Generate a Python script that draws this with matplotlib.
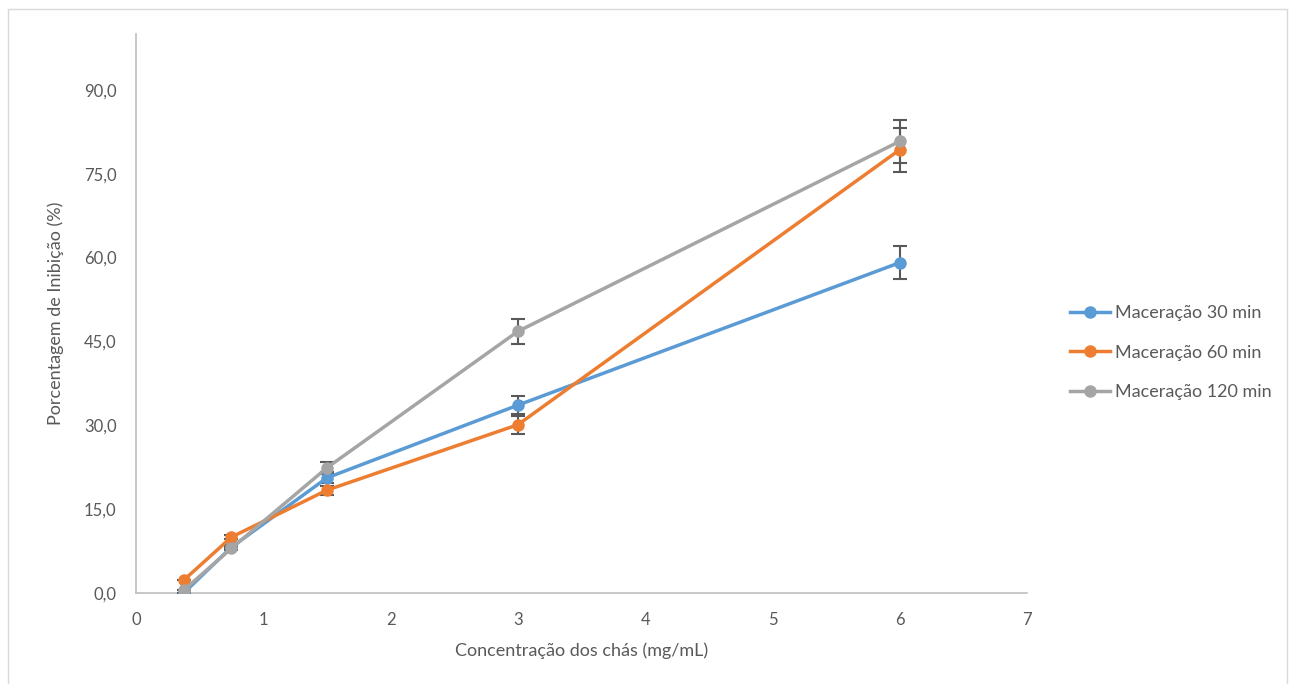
import matplotlib.pyplot as plt
from matplotlib.patches import Rectangle
from matplotlib.lines import Line2D
from matplotlib.ticker import FuncFormatter

plt.rcParams['font.family'] = ['Lato', 'DejaVu Sans']

concentracao = [0.375, 0.75, 1.5, 3, 6]
series = ["Maceração 30 min", "Maceração 60 min", "Maceração 120 min"]
inibicao = [
    [0.0, 8.2, 20.6, 33.6, 59.1],
    [2.3, 10.0, 18.4, 30.1, 79.3],
    [0.5, 8.0, 22.4, 46.8, 80.8],
]
erros = [
    [0.0, 0.3, 1.0, 1.6, 3.0],
    [0.0, 0.3, 0.8, 1.6, 3.9],
    [0.0, 0.3, 1.1, 2.2, 3.9],
]
cores = ['#5B9BD5', '#ED7D31', '#A5A5A5']

fig = plt.figure(figsize=(12.9, 6.84), dpi=100)
fig.patches.append(Rectangle((8 / 1290, -0.01), 1279 / 1290, 0.997, transform=fig.transFigure,
                             fill=False, edgecolor='#D9D9D9', linewidth=1))
ax = fig.add_axes([136 / 1290, 91 / 684, 891 / 1290, 559 / 684])

handles = []
for nome, y, e, cor in zip(series, inibicao, erros, cores):
    ax.errorbar(concentracao, y, yerr=e, color=cor, ecolor='#595959', elinewidth=1.5,
                capsize=5, capthick=1.5, marker='o', markersize=8, linewidth=2.5,
                zorder=3)
    handles.append(Line2D([], [], color=cor, marker='o', markersize=8, linewidth=2.5,
                          label=nome))

ax.set_xlim(0, 7)
ax.set_ylim(0, 100)
ax.set_yticks([0, 15, 30, 45, 60, 75, 90])
ax.yaxis.set_major_formatter(FuncFormatter(lambda v, p: f"{v:.1f}".replace('.', ',')))
ax.set_xticks(range(0, 8))
ax.tick_params(length=0, labelsize=12, colors='#595959', pad=14)
for s in ['top', 'right']:
    ax.spines[s].set_visible(False)
for s in ['left', 'bottom']:
    ax.spines[s].set_color('#BFBFBF')
    ax.spines[s].set_linewidth(1.2)

ax.set_xlabel("Concentração dos chás (mg/mL)", fontsize=13, color='#595959', labelpad=10)
ax.set_ylabel("Porcentagem de Inibição (%)", fontsize=13, color='#595959', labelpad=14)

ax.legend(handles=handles, loc='center left', bbox_to_anchor=(1.03, 0.43), frameon=False,
          fontsize=13, labelcolor='#595959', handlelength=2.2, handletextpad=0.3,
          labelspacing=1.3)

fig.savefig("out.png", dpi=100)
